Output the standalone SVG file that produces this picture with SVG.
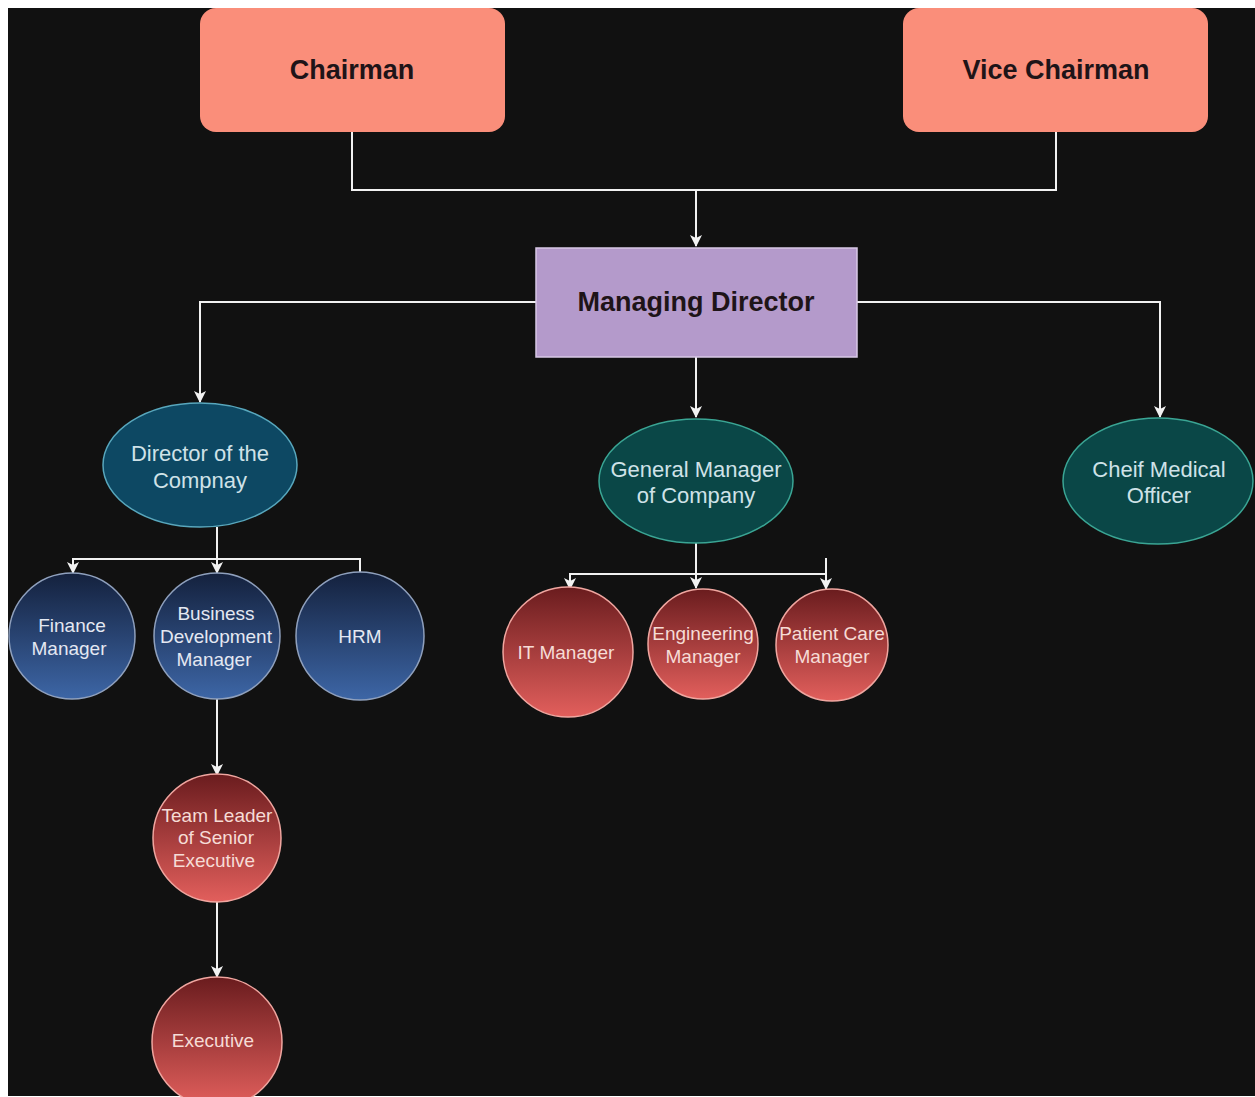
<svg xmlns="http://www.w3.org/2000/svg" width="1255" height="1097" viewBox="0 0 1255 1097">
<defs>
<marker id="arr" viewBox="0 0 12 12" refX="11" refY="6" markerWidth="12" markerHeight="12" markerUnits="userSpaceOnUse" orient="auto">
<path d="M0,0 L12,6 L0,12 L3,6 Z" fill="#f2f2f2"/>
</marker>
<linearGradient id="blue" x1="0" y1="0" x2="0" y2="1">
<stop offset="0" stop-color="#14213d"/>
<stop offset="1" stop-color="#3d66a6"/>
</linearGradient>
<linearGradient id="red" x1="0" y1="0" x2="0" y2="1">
<stop offset="0" stop-color="#6a1c1e"/>
<stop offset="1" stop-color="#e25f5c"/>
</linearGradient>
<style>
.t{font-family:"Liberation Sans",Arial,sans-serif;text-anchor:middle}
.big{font-size:27px;font-weight:bold;fill:#1e1418}
.ell{font-size:22px;fill:#cfe2e8}
.cb{font-size:19px;fill:#e4e8f2}
.cr{font-size:19px;fill:#f6dcd6}
.box{fill:#fa8e7a}
.bl{fill:url(#blue);stroke:#8fa0bd;stroke-width:1.5}
.rd{fill:url(#red);stroke:#f0a6a0;stroke-width:1.5}
.c{fill:none;stroke:#f2f2f2;stroke-width:2}
</style>
</defs>
<rect x="0" y="0" width="1255" height="1097" fill="#ffffff"/>
<rect x="8" y="8" width="1247" height="1088" fill="#111111"/>

<g id="connectors">
<path class="c" d="M352,132 V190 H1056 V132"/>
<path class="c" d="M696,190 V246" marker-end="url(#arr)"/>
<path class="c" d="M536,302 H200 V402" marker-end="url(#arr)"/>
<path class="c" d="M857,302 H1160 V417" marker-end="url(#arr)"/>
<path class="c" d="M696,357 V417" marker-end="url(#arr)"/>
<path class="c" d="M217,527 V559"/>
<path class="c" d="M217,559 H73 V573" marker-end="url(#arr)"/>
<path class="c" d="M217,559 V573" marker-end="url(#arr)"/>
<path class="c" d="M217,559 H360 V573"/>
<path class="c" d="M217,699 V775" marker-end="url(#arr)"/>
<path class="c" d="M217,901 V977" marker-end="url(#arr)"/>
<path class="c" d="M696,543 V574"/>
<path class="c" d="M696,574 H570 V589" marker-end="url(#arr)"/>
<path class="c" d="M696,574 V588" marker-end="url(#arr)"/>
<path class="c" d="M696,574 H826"/>
<path class="c" d="M826,558 V589" marker-end="url(#arr)"/>
</g>

<g id="chairman">
<rect class="box" x="200" y="8" width="305" height="124" rx="16"/>
<text class="t big" x="352" y="79">Chairman</text>
</g>
<g id="vice-chairman">
<rect class="box" x="903" y="8" width="305" height="124" rx="16"/>
<text class="t big" x="1056" y="79">Vice Chairman</text>
</g>
<g id="managing-director">
<rect x="536" y="248" width="321" height="109" fill="#b49acb" stroke="#d8c8e6" stroke-width="1.5"/>
<text class="t big" x="696" y="311">Managing Director</text>
</g>
<g id="director">
<ellipse cx="200" cy="465" rx="97" ry="62" fill="#0d4863" stroke="#58a7bd" stroke-width="1.5"/>
<text class="t ell" x="200" y="461">Director of the</text>
<text class="t ell" x="200" y="488">Compnay</text>
</g>
<g id="general-manager">
<ellipse cx="696" cy="481" rx="97" ry="62" fill="#0a4747" stroke="#3aa594" stroke-width="1.5"/>
<text class="t ell" x="696" y="477">General Manager</text>
<text class="t ell" x="696" y="503">of Company</text>
</g>
<g id="cmo">
<ellipse cx="1158" cy="481" rx="95" ry="63" fill="#0a4747" stroke="#3aa594" stroke-width="1.5"/>
<text class="t ell" x="1159" y="477">Cheif Medical</text>
<text class="t ell" x="1159" y="503">Officer</text>
</g>
<g id="finance-manager">
<circle class="bl" cx="72" cy="636" r="63"/>
<text class="t cb" x="72" y="632">Finance</text>
<text class="t cb" x="69" y="655">Manager</text>
</g>
<g id="bdm">
<circle class="bl" cx="217" cy="636" r="63"/>
<text class="t cb" x="216" y="620">Business</text>
<text class="t cb" x="216" y="643">Development</text>
<text class="t cb" x="214" y="666">Manager</text>
</g>
<g id="hrm">
<circle class="bl" cx="360" cy="636" r="64"/>
<text class="t cb" x="360" y="643">HRM</text>
</g>
<g id="team-leader">
<circle class="rd" cx="217" cy="838" r="64"/>
<text class="t cr" x="217" y="822">Team Leader</text>
<text class="t cr" x="216" y="844">of Senior</text>
<text class="t cr" x="214" y="867">Executive</text>
</g>
<g id="executive">
<circle class="rd" cx="217" cy="1042" r="65"/>
<text class="t cr" x="213" y="1047">Executive</text>
</g>
<g id="it-manager">
<circle class="rd" cx="568" cy="652" r="65"/>
<text class="t cr" x="566" y="659">IT Manager</text>
</g>
<g id="engineering-manager">
<circle class="rd" cx="703" cy="644" r="55"/>
<text class="t cr" x="703" y="640">Engineering</text>
<text class="t cr" x="703" y="663">Manager</text>
</g>
<g id="patient-care-manager">
<circle class="rd" cx="832" cy="645" r="56"/>
<text class="t cr" x="832" y="640">Patient Care</text>
<text class="t cr" x="832" y="663">Manager</text>
</g>
</svg>
